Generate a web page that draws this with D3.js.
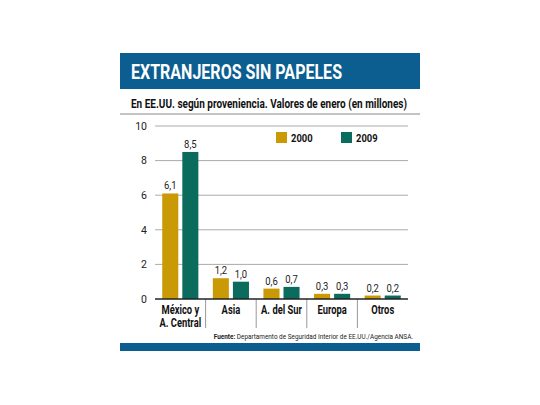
<!DOCTYPE html>
<html><head><meta charset="utf-8">
<script src="https://cdn.jsdelivr.net/npm/d3@7"></script>
<style>
html,body{margin:0;padding:0;background:#fff;}
svg{display:block;}
text{font-family:Roboto,"Liberation Sans",sans-serif;}
</style>
</head><body>
<svg id="c" width="540" height="405"></svg>
<script>
const categories = [["México y","A. Central"],["Asia"],["A. del Sur"],["Europa"],["Otros"]];
const series = ["2000","2009"];
const values2000 = [6.1, 1.2, 0.6, 0.3, 0.2];
const values2009 = [8.5, 1.0, 0.7, 0.3, 0.2];
const yTicks = [0,2,4,6,8,10];
const colors = {"2000":"#C99A06","2009":"#0B6B5C"};

const svg = d3.select("#c");
// condensed text helper: places text at (x,y) horizontally squeezed by sx
function cond(parent, x, y, sx){
  return parent.append("g").attr("transform",`translate(${x},${y}) scale(${sx},1)`).append("text").attr("x",0).attr("y",0);
}
const catKeys = categories.map(c=>c.join(" "));
const x0 = d3.scaleBand().domain(catKeys).range([155,408]).paddingInner(0).paddingOuter(0);
const x1 = d3.scaleBand().domain(series).range([0,x0.bandwidth()]).paddingInner(0.2).paddingOuter(0.36);
const y = d3.scaleLinear().domain([0,10]).range([299,126]);

// header
svg.append("rect").attr("x",120).attr("y",53).attr("width",300).attr("height",36).attr("fill","#0B5E8F");
svg.append("text").attr("x",131).attr("y",79).attr("fill","#fff")
  .attr("font-size",19.5).attr("font-weight","bold").attr("textLength",211).attr("lengthAdjust","spacingAndGlyphs")
  .text("EXTRANJEROS SIN PAPELES");
svg.append("text").attr("x",131).attr("y",108).attr("fill","#111")
  .attr("font-size",12.5).attr("font-weight","bold").attr("textLength",276).attr("lengthAdjust","spacingAndGlyphs")
  .text("En EE.UU. según proveniencia. Valores de enero (en millones)");
svg.append("line").attr("x1",120).attr("x2",420).attr("y1",114).attr("y2",114).attr("stroke","#888").attr("stroke-width",1);

// grid + y axis
const yAxis = d3.axisLeft(y).tickValues(yTicks).tickSize(0).tickPadding(5).tickFormat(d3.format("d"));
const ga = svg.append("g").attr("transform","translate(152,0)").call(yAxis);
ga.select(".domain").remove();
ga.selectAll("text").attr("font-family","Roboto, 'Liberation Sans', sans-serif").attr("font-size",10.5).attr("fill","#222");
svg.append("g").selectAll("line").data(yTicks.filter(d=>d>0)).join("line")
  .attr("x1",155).attr("x2",408).attr("y1",d=>y(d)).attr("y2",d=>y(d))
  .attr("stroke","#aaa").attr("stroke-width",1);

// legend
series.forEach((s,i)=>{
  const lx = 276 + i*65;
  svg.append("rect").attr("x",lx).attr("y",132).attr("width",11).attr("height",11).attr("fill",colors[s]);
  cond(svg, lx+15, 142, 0.82).attr("font-size",11.5).attr("font-weight","bold").attr("fill","#111").text(s);
});

// bars
const data = catKeys.map((k,i)=>({k, vals:[{s:"2000",v:values2000[i]},{s:"2009",v:values2009[i]}]}));
const fmt = v => d3.format(".1f")(v).replace(".",",");
const groups = svg.append("g").selectAll("g").data(data).join("g").attr("transform",d=>`translate(${x0(d.k)},0)`);
groups.selectAll("rect").data(d=>d.vals).join("rect")
  .attr("x",d=>x1(d.s)).attr("width",x1.bandwidth())
  .attr("y",d=>y(d.v)).attr("height",d=>y(0)-y(d.v)).attr("fill",d=>colors[d.s]);
groups.each(function(d){
  const g = d3.select(this);
  d.vals.forEach(p=>{
    cond(g, x1(p.s)+x1.bandwidth()/2, y(p.v)-4, 0.9)
      .attr("text-anchor","middle").attr("font-size",10.5).attr("fill","#222").text(fmt(p.v));
  });
});

// separators
svg.append("g").selectAll("line").data(catKeys.slice(1)).join("line")
  .attr("x1",d=>x0(d)).attr("x2",d=>x0(d)).attr("y1",y(0)).attr("y2",328)
  .attr("stroke","#999").attr("stroke-width",1);
// baseline
svg.append("line").attr("x1",155).attr("x2",408).attr("y1",y(0)).attr("y2",y(0)).attr("stroke","#222").attr("stroke-width",1.5);

// category labels
categories.forEach((lines,i)=>{
  lines.forEach((ln,j)=>{
    cond(svg, x0(catKeys[i])+x0.bandwidth()/2, 314+j*13, 0.78)
      .attr("text-anchor","middle").attr("font-size",12).attr("font-weight","bold").attr("fill","#111").text(ln);
  });
});

// source
const src = cond(svg, 413, 339, 0.8).attr("text-anchor","end").attr("font-size",8).attr("fill","#222");
src.append("tspan").attr("font-weight","bold").text("Fuente: ");
src.append("tspan").text("Departamento de Seguridad Interior de EE.UU./Agencia ANSA.");

// bottom bar
svg.append("rect").attr("x",120).attr("y",343).attr("width",300).attr("height",8).attr("fill","#0B5E8F");
</script>
</body></html>
